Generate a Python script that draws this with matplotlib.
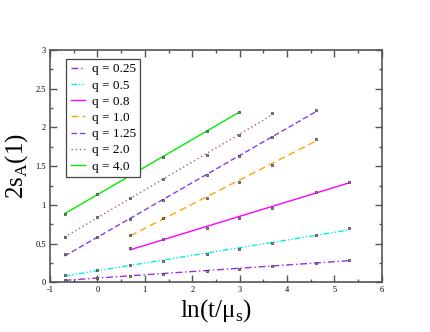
import numpy as np
import matplotlib
matplotlib.use("Agg")
import matplotlib.pyplot as plt
from matplotlib.ticker import MultipleLocator, FuncFormatter

plt.rcParams['font.family'] = ['Liberation Serif', 'DejaVu Serif']
plt.rcParams['mathtext.fontset'] = 'custom'
plt.rcParams['mathtext.rm'] = 'Liberation Serif'

# ln(t) sample points: t = 0.5, 1, 2, 4, 10, 20, 40, 100, 200
lnt = [-0.693, 0.0, 0.693, 1.386, 2.303, 2.996, 3.689, 4.605, 5.298]

labels = ['q = 0.25', 'q = 0.5', 'q = 0.8', 'q = 1.0', 'q = 1.25', 'q = 2.0', 'q = 4.0']
first_idx = [0, 0, 2, 2, 0, 0, 0]
y_025 = [0.035, 0.06, 0.08, 0.107, 0.14, 0.177, 0.21, 0.25, 0.29]
y_05 = [0.10, 0.155, 0.22, 0.275, 0.36, 0.43, 0.51, 0.607, 0.70]
y_08 = [0.44, 0.555, 0.706, 0.83, 0.965, 1.16, 1.30]
y_10 = [0.61, 0.83, 1.09, 1.30, 1.52, 1.85]
y_125 = [0.36, 0.58, 0.82, 1.06, 1.38, 1.63, 1.88, 2.22]
y_20 = [0.58, 0.84, 1.09, 1.33, 1.65, 1.90, 2.18]
y_40 = [0.88, 1.14, 1.38, 1.62, 1.95, 2.20]
series = [y_025, y_05, y_08, y_10, y_125, y_20, y_40]

colors = ['#9a30e0', '#00eeee', '#ff00ff', '#ffa500', '#8a3ee0', '#b05a8a', '#00ee00']
styles = [(0, (5, 2, 1, 2)), (0, (4, 1.5, 1, 1.5, 1, 1.5)), '-', (0, (5, 3)),
          (0, (4, 2)), (0, (1, 2)), '-']

fig = plt.figure(figsize=(4.30, 3.32), dpi=100)
ax = fig.add_axes([0.1163, 0.1497, 0.7716, 0.6997])

for ys, i0, c, ls, lab in zip(series, first_idx, colors, styles, labels):
    xs = np.array(lnt[i0:i0 + len(ys)])
    k, b = np.polyfit(xs, ys, 1)
    ends = np.array([xs[0], xs[-1]])
    ax.plot(ends, k * ends + b, color=c, ls=ls, lw=1.0, label=lab)
    ax.plot(xs, ys, ls='none', marker='s', ms=1.8, mfc='#999999', mec='#333333', mew=0.5)

ax.set_xlim(-1, 6)
ax.set_ylim(0, 3)
ax.xaxis.set_major_locator(MultipleLocator(1))
ax.xaxis.set_minor_locator(MultipleLocator(0.5))
ax.yaxis.set_major_locator(MultipleLocator(0.5))
ax.yaxis.set_minor_locator(MultipleLocator(0.25))
ax.xaxis.set_major_formatter(FuncFormatter(lambda v, p: '%g' % v))
ax.yaxis.set_major_formatter(FuncFormatter(lambda v, p: '%g' % v))
ax.tick_params(which='both', direction='in', top=True, right=True, color='#555555',
               labelsize=6, pad=3)
ax.tick_params(which='major', length=5, width=1)
ax.tick_params(which='minor', length=2.5, width=1)
for sp in ax.spines.values():
    sp.set_color('#555555')
    sp.set_linewidth(1.2)

ax.set_xlabel(r'ln(t/μ$_\mathregular{s}$)', fontsize=18, labelpad=2)
ax.set_ylabel(r'2s$_\mathregular{A}$(1)', fontsize=18, labelpad=4)

leg = ax.legend(loc='upper left', bbox_to_anchor=(0.048, 0.963), fontsize=9.5,
                handlelength=1.1, handletextpad=0.5, labelspacing=0.3,
                borderpad=0.35, borderaxespad=0, fancybox=False, framealpha=1)
leg.get_frame().set_edgecolor('#444444')
leg.get_frame().set_linewidth(0.9)

fig.savefig('out.png', dpi=100)
